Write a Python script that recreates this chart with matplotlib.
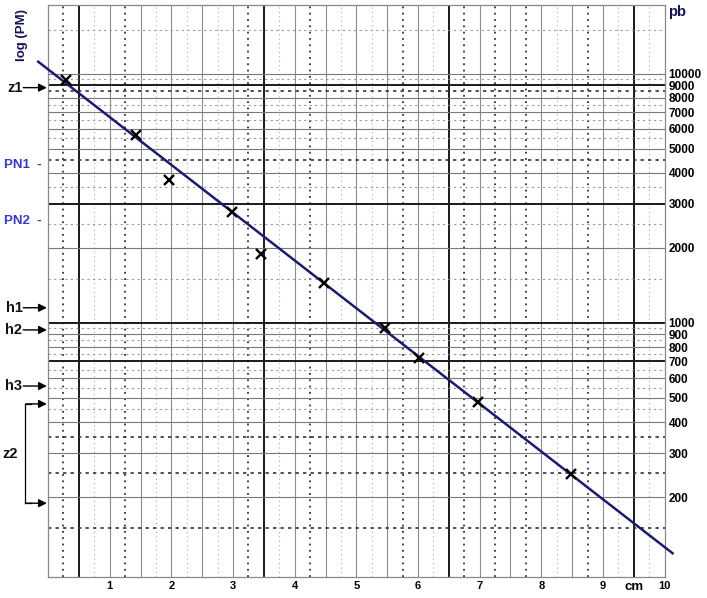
import numpy as np
import matplotlib
matplotlib.use("Agg")
import matplotlib.pyplot as plt

# migration distance (cm) and fragment size (pb)
dist_cm = [0.29, 1.43, 1.96, 2.99, 3.46, 4.47, 5.47, 6.01, 6.98, 8.49]
size_pb = [9460, 5690, 3750, 2790, 1890, 1448, 955, 723, 481, 247]

# hand-drawn calibration line (end points)
fit_cm = [-0.16, 10.13]
fit_pb = [11170, 119]

# y labels on the right
y_ticks = [10000, 9000, 8000, 7000, 6000, 5000, 4000, 3000, 2000,
           1000, 900, 800, 700, 600, 500, 400, 300, 200]
x_ticks = [1, 2, 3, 4, 5, 6, 7, 8, 9, 10]

# marked bands on the left
arrow_marks = {"z1": 8790, "h1": 1150, "h2": 937, "h3": 558}
pn_marks = {"PN1": 4310, "PN2": 2570}
z2_range = [473, 189]

# graph-paper rulings
v_solid = np.arange(0.5, 10.0, 0.5)
v_heavy = [0.5, 3.5, 6.5, 9.5]
v_dotted = np.arange(0.25, 10.0, 0.5)
v_dotted_heavy = [0.25, 1.25, 3.25, 4.25, 5.75, 6.75, 7.25, 7.75, 8.75]
h_solid = y_ticks
h_heavy = [700, 1000, 3000, 9000]
h_dotted = [150, 250, 350, 450, 550, 650, 750, 850, 950,
            1500, 2500, 3500, 4500, 5500, 6500, 7500, 8500, 9500, 15000]
h_dotted_heavy = [150, 250, 350, 4500, 8500]

plt.rcParams["font.family"] = ["Liberation Sans", "DejaVu Sans"]

fig = plt.figure(figsize=(7.07, 5.98), dpi=100)
ax = fig.add_axes([0.068, 0.035, 0.872, 0.957])
ax.set_yscale("log")
ax.set_xlim(0, 10)
ax.set_ylim(95.5, 18900)

for x in v_dotted:
    if x in v_dotted_heavy:
        ax.axvline(x, color="#333333", lw=1.3, ls=(0, (1, 2.5)), zorder=1)
    else:
        ax.axvline(x, color="#aaaaaa", lw=0.8, ls=(0, (1, 3)), zorder=1)
for x in v_solid:
    if x in v_heavy:
        ax.axvline(x, color="#1a1a1a", lw=1.4, zorder=1)
    else:
        ax.axvline(x, color="#8c8c8c", lw=0.8, zorder=1)
for y in h_dotted:
    if y in h_dotted_heavy:
        ax.axhline(y, color="#333333", lw=1.2, ls=(0, (2, 2.5)), zorder=1)
    else:
        ax.axhline(y, color="#9a9a9a", lw=0.8, ls=(0, (2, 3)), zorder=1)
for y in h_solid:
    if y in h_heavy:
        ax.axhline(y, color="#1a1a1a", lw=1.4, zorder=1)
    else:
        ax.axhline(y, color="#7a7a7a", lw=0.8, zorder=1)

ax.plot(fit_cm, fit_pb, color="#1c1c6e", lw=1.8, zorder=3, clip_on=False)
ax.plot(dist_cm, size_pb, ls="none", marker="x", ms=7.5, mew=1.7,
        color="black", zorder=4)

for s in ax.spines.values():
    s.set_color("#888888")
    s.set_linewidth(0.9)

ax.yaxis.tick_right()
ax.set_yticks(y_ticks)
ax.set_yticklabels([str(v) for v in y_ticks], fontsize=8.5, fontweight="bold")
ax.yaxis.set_minor_locator(matplotlib.ticker.NullLocator())
ax.set_xticks(x_ticks)
ax.set_xticklabels([str(v) for v in x_ticks], fontsize=8, fontweight="bold")
ax.tick_params(axis="both", length=0)
ax.tick_params(axis="y", pad=3)
ax.tick_params(axis="x", pad=3)

tr = ax.get_yaxis_transform()
arrow_kw = dict(arrowstyle="-|>", color="black", lw=1.0,
                mutation_scale=12, shrinkA=0, shrinkB=0)
for name, val in arrow_marks.items():
    ax.annotate("", xy=(-0.002, val), xycoords=tr, xytext=(-17, 0),
                textcoords="offset points", arrowprops=arrow_kw)
    ax.annotate(name, xy=(0, val), xycoords=tr, xytext=(-18.5, 0),
                textcoords="offset points", ha="right", va="center",
                fontsize=10.5, fontweight="bold", color="#111111")
for name, val in pn_marks.items():
    ax.annotate(name + "  -", xy=(0, val), xycoords=tr, xytext=(-5, 0),
                textcoords="offset points", ha="right", va="center",
                fontsize=9.5, fontweight="bold", color="#3b3bc4")

# z2 bracket
for val in z2_range:
    ax.annotate("", xy=(-0.002, val), xycoords=tr, xytext=(-15, 0),
                textcoords="offset points", arrowprops=arrow_kw)
ax.plot([-0.037, -0.037], z2_range, color="black", lw=0.9,
        transform=tr, clip_on=False)
for val in z2_range:
    ax.plot([-0.037, -0.027], [val, val], color="black", lw=0.9,
            transform=tr, clip_on=False)
ax.annotate("z2", xy=(0, np.sqrt(z2_range[0] * z2_range[1])), xycoords=tr,
            xytext=(-33, 0), textcoords="offset points", ha="left",
            va="center", fontsize=10.5, fontweight="bold", color="#111111")

fig.text(0.031, 0.985, "log (PM)", rotation=90, ha="center", va="top",
         fontsize=9.5, fontweight="bold", color="#141450")
fig.text(0.945, 0.98, "pb", ha="left", va="center", fontsize=10.5,
         fontweight="bold", color="#141450")
fig.text(0.883, 0.008, "cm", ha="left", va="bottom", fontsize=9.5,
         fontweight="bold", color="black")

fig.savefig("out.png", dpi=100)
